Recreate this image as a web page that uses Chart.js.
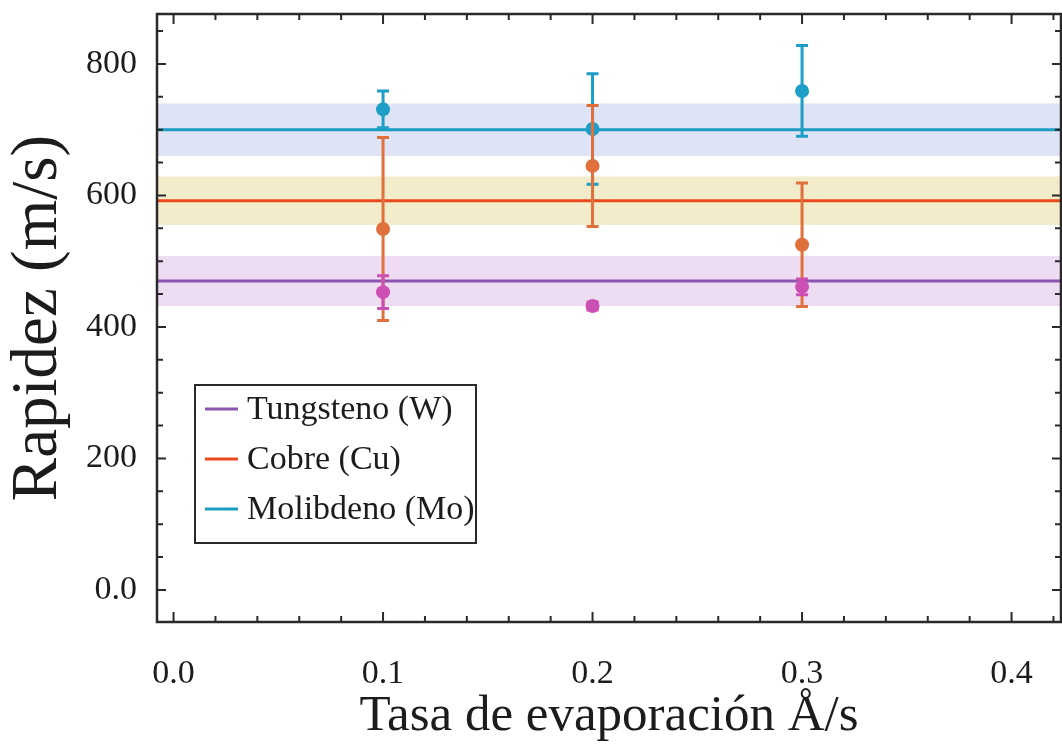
<!DOCTYPE html>
<html>
<head>
<meta charset="utf-8">
<script src="https://cdn.jsdelivr.net/npm/chart.js@4.4.1/dist/chart.umd.min.js"></script>
<style>
  html, body { margin: 0; padding: 0; background: #ffffff; }
  canvas { display: block; }
</style>
</head>
<body>
<canvas id="c" width="1062" height="753"></canvas>
<script>
// Evaporation rate (Å/s) of each measurement
const rates = [0.1, 0.2, 0.3];

// Material names, in legend order
const materials = ['Tungsteno (W)', 'Cobre (Cu)', 'Molibdeno (Mo)'];

// Measured speed (m/s) and its uncertainty for each material
const tungstenoSpeed = [453, 432, 461];
const tungstenoErr   = [25, 6, 12];
const cobreSpeed     = [549, 645, 525];
const cobreErr       = [139, 92, 94];
const molibdenoSpeed = [731, 701, 759];
const molibdenoErr   = [28, 84, 69];

// Mean speed and spread band of each material (same order as materials)
const meanSpeed  = [470, 592, 700];
const meanSpread = [38, 37, 40];

// Axis ticks
const rateTicks       = [0, 0.1, 0.2, 0.3, 0.4];
const rateTickLabels  = ['0.0', '0.1', '0.2', '0.3', '0.4'];
const speedTicks      = [0, 200, 400, 600, 800];
const speedTickLabels = ['0.0', '200', '400', '600', '800'];

// ---- styling ----
const X_MIN = -0.0079, X_MAX = 0.4236;
const Y_MIN = -48.7,  Y_MAX = 876;
const PLOT = { left: 157, top: 14, right: 1061, bottom: 622 };
const SERIF = '"Liberation Serif", "Times New Roman", serif';
const INK = '#1c1c1c';
const pointColors = ['#cc4fb4', '#e0703c', '#1c9ec6'];
const lineColors  = ['#8c55b0', '#ea4a1e', '#1f9cc2'];
const bandColors  = ['#eedcf2', '#f3ecca', '#dfe3f6'];

const speeds = [tungstenoSpeed, cobreSpeed, molibdenoSpeed];
const errors = [tungstenoErr, cobreErr, molibdenoErr];

const datasets = [];
materials.forEach((name, i) => {
  // measured points (error bars drawn by the errorBars plugin)
  datasets.push({
    label: name,
    data: rates.map((r, j) => ({ x: r, y: speeds[i][j] })),
    errors: errors[i],
    showLine: false,
    pointRadius: 7,
    pointHoverRadius: 7,
    pointBackgroundColor: pointColors[i],
    pointBorderWidth: 0,
    backgroundColor: pointColors[i],
    order: i
  });
});
materials.forEach((name, i) => {
  // mean line
  datasets.push({
    label: name + ' media',
    data: [{ x: X_MIN, y: meanSpeed[i] }, { x: X_MAX, y: meanSpeed[i] }],
    showLine: true,
    borderColor: lineColors[i],
    borderWidth: 3,
    pointRadius: 0,
    fill: false,
    order: 3 + i
  });
});
materials.forEach((name, i) => {
  // spread band around the mean
  datasets.push({
    label: name + ' banda',
    data: [{ x: X_MIN, y: meanSpeed[i] + meanSpread[i] }, { x: X_MAX, y: meanSpeed[i] + meanSpread[i] }],
    showLine: true,
    borderWidth: 0,
    borderColor: 'rgba(0,0,0,0)',
    pointRadius: 0,
    backgroundColor: bandColors[i],
    fill: { value: meanSpeed[i] - meanSpread[i] },
    order: 6 + i
  });
});

// Vertical error bars with caps, drawn right before each point set
const errorBars = {
  id: 'errorBars',
  beforeDatasetDraw(chart, args) {
    const ds = chart.data.datasets[args.index];
    if (!ds.errors) return;
    const { ctx, scales: { x, y } } = chart;
    ctx.save();
    ctx.strokeStyle = ds.backgroundColor;
    ctx.lineWidth = 3;
    ds.data.forEach((p, j) => {
      const px = x.getPixelForValue(p.x);
      const top = y.getPixelForValue(p.y + ds.errors[j]);
      const bot = y.getPixelForValue(p.y - ds.errors[j]);
      ctx.beginPath();
      ctx.moveTo(px, top); ctx.lineTo(px, bot);
      ctx.moveTo(px - 6, top); ctx.lineTo(px + 6, top);
      ctx.moveTo(px - 6, bot); ctx.lineTo(px + 6, bot);
      ctx.stroke();
    });
    ctx.restore();
  }
};

// Box frame with inward major/minor ticks on all four sides
const frameTicks = {
  id: 'frameTicks',
  afterDatasetsDraw(chart) {
    const { ctx, chartArea: a, scales: { x, y } } = chart;
    ctx.save();
    ctx.strokeStyle = '#2a2a2a';
    ctx.lineWidth = 2;
    ctx.beginPath();
    for (let k = Math.ceil(X_MIN / 0.02); k * 0.02 <= X_MAX; k++) {
      const px = x.getPixelForValue(k * 0.02);
      const len = (k % 5 === 0) ? 10 : 6;
      ctx.moveTo(px, a.bottom); ctx.lineTo(px, a.bottom - len);
      ctx.moveTo(px, a.top); ctx.lineTo(px, a.top + len);
    }
    for (let k = Math.ceil(Y_MIN / 50); k * 50 <= Y_MAX; k++) {
      const py = y.getPixelForValue(k * 50);
      const len = (k % 4 === 0) ? 9 : 6;
      ctx.moveTo(a.left, py); ctx.lineTo(a.left + len, py);
      ctx.moveTo(a.right, py); ctx.lineTo(a.right - len, py);
    }
    ctx.stroke();
    ctx.lineWidth = 2.5;
    ctx.strokeRect(a.left, a.top, a.right - a.left, a.bottom - a.top);
    ctx.restore();
  }
};

// Boxed legend inside the plot area
const boxLegend = {
  id: 'boxLegend',
  afterDraw(chart) {
    const { ctx, chartArea: a } = chart;
    const bx = a.left + 38, by = a.top + 371, bw = 281, bh = 158;
    ctx.save();
    ctx.fillStyle = '#ffffff';
    ctx.fillRect(bx, by, bw, bh);
    ctx.strokeStyle = '#2a2a2a';
    ctx.lineWidth = 2;
    ctx.strokeRect(bx, by, bw, bh);
    ctx.font = '34px ' + SERIF;
    ctx.textBaseline = 'middle';
    materials.forEach((name, i) => {
      const yy = by + 24 + i * 50;
      ctx.strokeStyle = lineColors[i];
      ctx.lineWidth = 3;
      ctx.beginPath();
      ctx.moveTo(bx + 10, yy); ctx.lineTo(bx + 43, yy);
      ctx.stroke();
      ctx.fillStyle = INK;
      ctx.fillText(name, bx + 52, yy + 1);
    });
    ctx.restore();
  }
};

// Pin the plot area to fixed pixel bounds once the layout is done
const pinArea = {
  id: 'pinArea',
  afterLayout(chart) {
    const a = chart.chartArea;
    Object.assign(a, PLOT);
    a.width = PLOT.right - PLOT.left;
    a.height = PLOT.bottom - PLOT.top;
    const { x, y } = chart.scales;
    x.left = PLOT.left; x.right = PLOT.right; x.width = a.width;
    x.top = PLOT.bottom; x.bottom = chart.height; x.height = chart.height - PLOT.bottom;
    y.top = PLOT.top; y.bottom = PLOT.bottom; y.height = a.height;
    y.left = 0; y.right = PLOT.left; y.width = PLOT.left;
    x.configure(); y.configure();
  }
};

new Chart(document.getElementById('c'), {
  type: 'scatter',
  data: { datasets },
  options: {
    responsive: false,
    animation: false,
    events: [],
    layout: { padding: { top: 14, right: 1, left: 0, bottom: 0 } },
    plugins: { legend: { display: false }, tooltip: { enabled: false } },
    scales: {
      x: {
        type: 'linear',
        min: X_MIN, max: X_MAX,
        afterBuildTicks: s => { s.ticks = rateTicks.map(v => ({ value: v })); },
        afterFit: s => { s.height = 131; s.paddingLeft = 0; s.paddingRight = 0; },
        grid: { display: false },
        border: { display: false },
        ticks: {
          autoSkip: false, maxRotation: 0, padding: 24,
          color: INK, font: { family: SERIF, size: 34 },
          callback: v => rateTickLabels[rateTicks.indexOf(v)]
        },
        title: {
          display: true, text: 'Tasa de evaporación Å/s', color: INK,
          font: { family: SERIF, size: 51 }, padding: { top: 0, bottom: 6 }
        }
      },
      y: {
        type: 'linear',
        min: Y_MIN, max: Y_MAX,
        afterBuildTicks: s => { s.ticks = speedTicks.map(v => ({ value: v })); },
        afterFit: s => { s.width = 157; s.paddingTop = 0; s.paddingBottom = 0; },
        grid: { display: false },
        border: { display: false },
        ticks: {
          autoSkip: false, padding: 12,
          color: INK, font: { family: SERIF, size: 34 },
          callback: v => speedTickLabels[speedTicks.indexOf(v)]
        },
        title: {
          display: true, text: 'Rapidez (m/s)', color: INK,
          font: { family: SERIF, size: 65 }, padding: { top: 0, bottom: 0 }
        }
      }
    }
  },
  plugins: [pinArea, errorBars, frameTicks, boxLegend]
});
</script>
</body>
</html>
